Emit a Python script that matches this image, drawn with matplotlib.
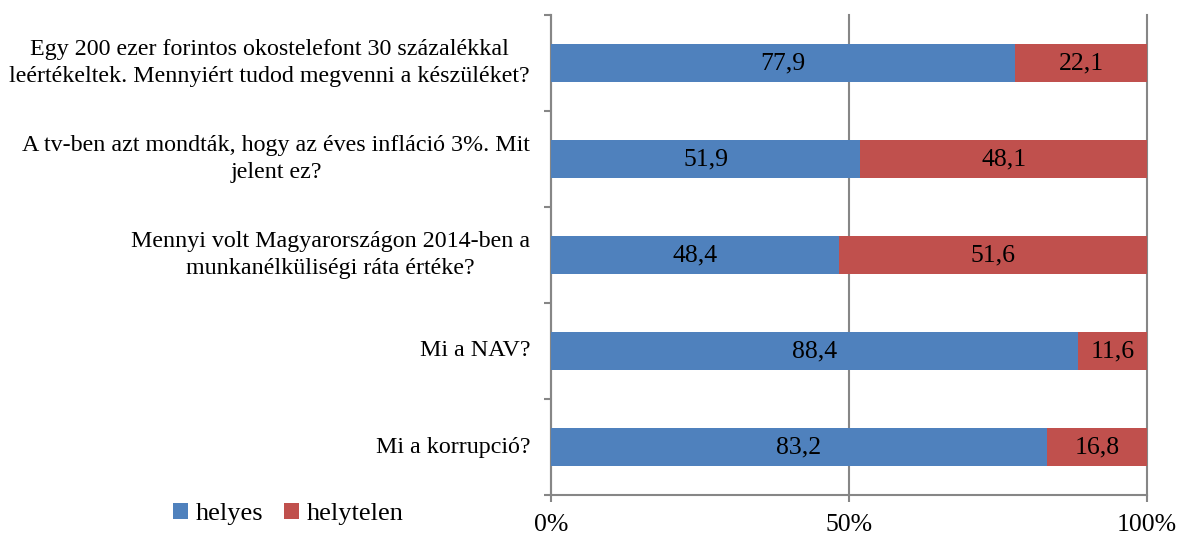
import numpy as np
import matplotlib.pyplot as plt
from matplotlib.ticker import FixedLocator, PercentFormatter

plt.rcParams['font.family'] = ['Liberation Serif', 'DejaVu Serif']

questions = [
    "Egy 200 ezer forintos okostelefont 30 százalékkal\nleértékeltek. Mennyiért tudod megvenni a készüléket?",
    "A tv-ben azt mondták, hogy az éves infláció 3%. Mit\njelent ez?",
    "Mennyi volt Magyarországon 2014-ben a\nmunkanélküliségi ráta értéke?",
    "Mi a NAV?",
    "Mi a korrupció?",
]
helyes = [77.9, 51.9, 48.4, 88.4, 83.2]
helytelen = [22.1, 48.1, 51.6, 11.6, 16.8]
series_names = ["helyes", "helytelen"]
colors = ["#4F81BD", "#C0504D"]
grid_col = "#868686"

W, H = 1177, 536
fig = plt.figure(figsize=(W / 100, H / 100), dpi=100)
ax = fig.add_axes([551 / W, 1 - 495 / H, 596 / W, 480 / H])

y = np.arange(len(questions))
b1 = ax.barh(y, helyes, height=0.4, color=colors[0], label=series_names[0], zorder=3)
b2 = ax.barh(y, helytelen, left=helyes, height=0.4, color=colors[1], label=series_names[1], zorder=3)

# adatfeliratok a szakaszok közepén
for bars in (b1, b2):
    labels = [f"{v:.1f}".replace(".", ",") for v in bars.datavalues]
    ax.bar_label(bars, labels=labels, label_type="center", fontsize=18.5, zorder=4)

ax.set_xlim(0, 100)
ax.set_ylim(len(questions) - 0.5, -0.5)
ax.set_xticks([0, 50, 100])
ax.xaxis.set_major_formatter(PercentFormatter(decimals=0))
ax.tick_params(axis="x", length=5, color=grid_col, width=1.5, labelsize=18.5, pad=9)
ax.grid(axis="x", color=grid_col, lw=1.5, zorder=0)
for gl in ax.get_xgridlines():
    gl.set_clip_on(False)

# kérdések: jobbra igazítva, soronként középre
ax.set_yticks(y)
ax.set_yticklabels([])
ax.tick_params(axis="y", which="major", length=0)
for yi, q in zip(y, questions):
    ax.text(-21 / 596, yi, q, transform=ax.get_yaxis_transform(), ha="right",
            va="center", multialignment="center", fontsize=17.3, linespacing=1.4)
ax.yaxis.set_minor_locator(FixedLocator(np.arange(len(questions) + 1) - 0.5))
ax.tick_params(axis="y", which="minor", length=5, color=grid_col, width=1.5)

for s in ["top", "right"]:
    ax.spines[s].set_visible(False)
for s in ["left", "bottom"]:
    ax.spines[s].set_color(grid_col)
    ax.spines[s].set_linewidth(1.5)

fig.legend(loc="center left", bbox_to_anchor=(173 / W, 1 - 514 / H), ncol=2,
           frameon=False, fontsize=19, handlelength=0.55, handleheight=0.55,
           handletextpad=0.3, columnspacing=0.8, borderpad=0, borderaxespad=0)

fig.savefig("out.png", dpi=100)
